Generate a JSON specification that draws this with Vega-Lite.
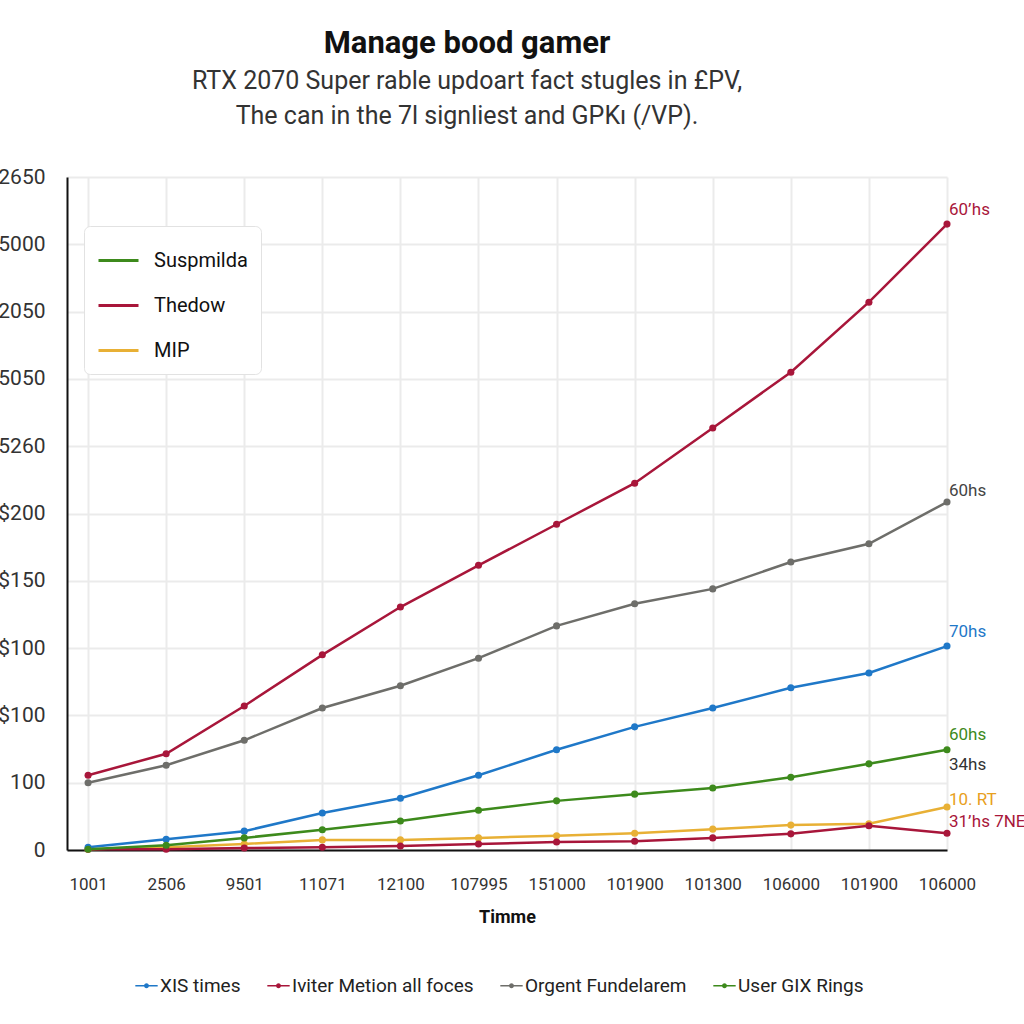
{
  "$schema": "https://vega.github.io/schema/vega-lite/v6.json",
  "autosize": "none",
  "width": 880,
  "height": 673,
  "padding": {"left": 67, "top": 177, "right": 77, "bottom": 174},
  "background": "white",
  "config": {
    "view": {"stroke": null},
    "font": "Roboto"
  },
  "title": {
    "text": "Manage bood gamer",
    "subtitle": ["RTX 2070 Super rable updoart fact stugles in \u00a3PV,", "The can in the 7l signliest and GPK\u0131 (/VP)."],
    "anchor": "middle",
    "dx": -40,
    "offset": 36,
    "font": "Roboto",
    "fontSize": 31,
    "fontWeight": "bold",
    "color": "#111111",
    "subtitleFont": "Roboto",
    "subtitleFontSize": 25,
    "subtitleColor": "#333333",
    "subtitlePadding": 9,
    "subtitleLineHeight": 35
  },
  "datasets": {
    "main": [
      {"t": 0, "series": "Iviter Metion all foces", "value": 111},
      {"t": 1, "series": "Iviter Metion all foces", "value": 143},
      {"t": 2, "series": "Iviter Metion all foces", "value": 214},
      {"t": 3, "series": "Iviter Metion all foces", "value": 290},
      {"t": 4, "series": "Iviter Metion all foces", "value": 361},
      {"t": 5, "series": "Iviter Metion all foces", "value": 423},
      {"t": 6, "series": "Iviter Metion all foces", "value": 484},
      {"t": 7, "series": "Iviter Metion all foces", "value": 545},
      {"t": 8, "series": "Iviter Metion all foces", "value": 627},
      {"t": 9, "series": "Iviter Metion all foces", "value": 710},
      {"t": 10, "series": "Iviter Metion all foces", "value": 814},
      {"t": 11, "series": "Iviter Metion all foces", "value": 930},
      {"t": 0, "series": "Orgent Fundelarem", "value": 100},
      {"t": 1, "series": "Orgent Fundelarem", "value": 126},
      {"t": 2, "series": "Orgent Fundelarem", "value": 163},
      {"t": 3, "series": "Orgent Fundelarem", "value": 211},
      {"t": 4, "series": "Orgent Fundelarem", "value": 244},
      {"t": 5, "series": "Orgent Fundelarem", "value": 285},
      {"t": 6, "series": "Orgent Fundelarem", "value": 333},
      {"t": 7, "series": "Orgent Fundelarem", "value": 366},
      {"t": 8, "series": "Orgent Fundelarem", "value": 388},
      {"t": 9, "series": "Orgent Fundelarem", "value": 428},
      {"t": 10, "series": "Orgent Fundelarem", "value": 455},
      {"t": 11, "series": "Orgent Fundelarem", "value": 517},
      {"t": 0, "series": "XIS times", "value": 4},
      {"t": 1, "series": "XIS times", "value": 16},
      {"t": 2, "series": "XIS times", "value": 28},
      {"t": 3, "series": "XIS times", "value": 55},
      {"t": 4, "series": "XIS times", "value": 77},
      {"t": 5, "series": "XIS times", "value": 111},
      {"t": 6, "series": "XIS times", "value": 149},
      {"t": 7, "series": "XIS times", "value": 183},
      {"t": 8, "series": "XIS times", "value": 211},
      {"t": 9, "series": "XIS times", "value": 241},
      {"t": 10, "series": "XIS times", "value": 263},
      {"t": 11, "series": "XIS times", "value": 303},
      {"t": 0, "series": "User GIX Rings", "value": 1},
      {"t": 1, "series": "User GIX Rings", "value": 7},
      {"t": 2, "series": "User GIX Rings", "value": 18},
      {"t": 3, "series": "User GIX Rings", "value": 30},
      {"t": 4, "series": "User GIX Rings", "value": 43},
      {"t": 5, "series": "User GIX Rings", "value": 59},
      {"t": 6, "series": "User GIX Rings", "value": 73},
      {"t": 7, "series": "User GIX Rings", "value": 83},
      {"t": 8, "series": "User GIX Rings", "value": 92},
      {"t": 9, "series": "User GIX Rings", "value": 108},
      {"t": 10, "series": "User GIX Rings", "value": 128},
      {"t": 11, "series": "User GIX Rings", "value": 149},
      {"t": 0, "series": "MIP", "value": 1},
      {"t": 1, "series": "MIP", "value": 4},
      {"t": 2, "series": "MIP", "value": 9},
      {"t": 3, "series": "MIP", "value": 15},
      {"t": 4, "series": "MIP", "value": 15},
      {"t": 5, "series": "MIP", "value": 18},
      {"t": 6, "series": "MIP", "value": 21},
      {"t": 7, "series": "MIP", "value": 25},
      {"t": 8, "series": "MIP", "value": 31},
      {"t": 9, "series": "MIP", "value": 37},
      {"t": 10, "series": "MIP", "value": 39},
      {"t": 11, "series": "MIP", "value": 64},
      {"t": 0, "series": "Thedow", "value": 1},
      {"t": 1, "series": "Thedow", "value": 1},
      {"t": 2, "series": "Thedow", "value": 3},
      {"t": 3, "series": "Thedow", "value": 4},
      {"t": 4, "series": "Thedow", "value": 6},
      {"t": 5, "series": "Thedow", "value": 9},
      {"t": 6, "series": "Thedow", "value": 12},
      {"t": 7, "series": "Thedow", "value": 13},
      {"t": 8, "series": "Thedow", "value": 18},
      {"t": 9, "series": "Thedow", "value": 24},
      {"t": 10, "series": "Thedow", "value": 36},
      {"t": 11, "series": "Thedow", "value": 25}
    ],
    "notes": [
      {"t": 11, "series": "Iviter Metion all foces", "value": 951, "label": "60\u2019hs"},
      {"t": 11, "series": "Orgent Fundelarem", "value": 533, "label": "60hs"},
      {"t": 11, "series": "XIS times", "value": 324, "label": "70hs"},
      {"t": 11, "series": "User GIX Rings", "value": 171, "label": "60hs"},
      {"t": 11, "series": "Note", "value": 126, "label": "34hs"},
      {"t": 11, "series": "MIP", "value": 74, "label": "10. RT"},
      {"t": 11, "series": "Thedow", "value": 42, "label": "31\u2019hs 7NE"}
    ]
  },
  "resolve": {"scale": {"color": "independent"}, "legend": {"color": "independent"}},
  "layer": [
    {
      "data": {"name": "main"},
      "transform": [{"filter": "datum.series === 'MIP' || datum.series === 'Thedow'"}],
      "mark": {"type": "line", "strokeWidth": 2.5, "point": {"filled": true, "size": 50}},
      "encoding": {
        "x": {
          "field": "t", "type": "quantitative",
          "scale": {"domain": [-0.27, 11], "nice": false, "zero": false},
          "axis": {
            "values": [0, 1, 2, 3, 4, 5, 6, 7, 8, 9, 10, 11],
            "labelExpr": "['1001','2506','9501','11071','12100','107995','151000','101900','101300','106000','101900','106000'][datum.value]",
            "labelOverlap": false,
            "labelBound": false,
            "labelFlush": false,
            "title": "Timme",
            "titleFont": "Roboto",
            "titleFontSize": 18,
            "titleFontWeight": "bold",
            "titleColor": "#111111",
            "titlePadding": 16,
            "labelFont": "Roboto",
            "labelFontSize": 17,
            "labelColor": "#333333",
            "labelPadding": 26,
            "ticks": false,
            "domainColor": "#111111",
            "domainWidth": 2,
            "grid": true,
            "gridColor": "#ebebeb",
            "gridWidth": 2
          }
        },
        "y": {
          "field": "value", "type": "quantitative",
          "scale": {"domain": [0, 1000], "nice": false},
          "axis": {
            "values": [0, 100, 200, 300, 400, 500, 600, 700, 800, 900, 1000],
            "labelExpr": "['0','100','$100','$100','$150','$200','5260','5050','2050','5000','2650'][round(datum.value/100)]",
            "title": null,
            "labelFont": "Roboto",
            "labelFontSize": 21,
            "labelColor": "#333333",
            "labelPadding": 22,
            "ticks": false,
            "domainColor": "#111111",
            "domainWidth": 2,
            "grid": true,
            "gridColor": "#ebebeb",
            "gridWidth": 2
          }
        },
        "color": {
          "field": "series", "type": "nominal",
          "scale": {"domain": ["Suspmilda", "Thedow", "MIP"], "range": ["#3d8a1c", "#a8163a", "#e8b035"]},
          "legend": {
            "orient": "none",
            "legendX": 17,
            "legendY": 49,
            "title": null,
            "symbolType": "stroke",
            "symbolStrokeWidth": 3,
            "symbolSize": 1600,
            "labelFont": "Roboto",
            "labelFontSize": 20,
            "labelColor": "#111111",
            "labelOffset": 14,
            "rowPadding": 13,
            "fillColor": "white",
            "strokeColor": "#e2e2e2",
            "padding": 13,
            "cornerRadius": 6,
            "labelLimit": 300
          }
        }
      }
    },
    {
      "data": {"name": "main"},
      "transform": [{"filter": "datum.series !== 'MIP' && datum.series !== 'Thedow'"}],
      "mark": {"type": "line", "strokeWidth": 2.5, "point": {"filled": true, "size": 50}},
      "encoding": {
        "x": {"field": "t", "type": "quantitative"},
        "y": {"field": "value", "type": "quantitative"},
        "color": {
          "field": "series", "type": "nominal",
          "scale": {"domain": ["XIS times", "Iviter Metion all foces", "Orgent Fundelarem", "User GIX Rings"], "range": ["#1f78c8", "#a8163a", "#6e6e6a", "#3d8a1c"]},
          "legend": {
            "orient": "none",
            "legendX": 68,
            "legendY": 797,
            "direction": "horizontal",
            "title": null,
            "symbolType": "M-1,-0.06H1V0.06H-1Z M0.22,0A0.22,0.22 0 1,1 -0.22,0A0.22,0.22 0 1,1 0.22,0Z",
            "symbolSize": 500,
            "symbolStrokeWidth": 0,
            "labelFont": "Roboto",
            "labelFontSize": 19,
            "labelColor": "#222222",
            "labelOffset": 2,
            "columnPadding": 26,
            "labelLimit": 400
          }
        }
      }
    },
    {
      "data": {"name": "notes"},
      "mark": {"type": "text", "align": "left", "dx": 2, "font": "Roboto", "fontSize": 17, "baseline": "middle"},
      "encoding": {
        "x": {"field": "t", "type": "quantitative"},
        "y": {"field": "value", "type": "quantitative"},
        "text": {"field": "label"},
        "color": {
          "field": "series", "type": "nominal",
          "scale": {"domain": ["Iviter Metion all foces", "Orgent Fundelarem", "XIS times", "User GIX Rings", "Note", "MIP", "Thedow"], "range": ["#a8163a", "#444444", "#1f78c8", "#3d8a1c", "#333333", "#e8a020", "#a8163a"]},
          "legend": null
        }
      }
    }
  ]
}
